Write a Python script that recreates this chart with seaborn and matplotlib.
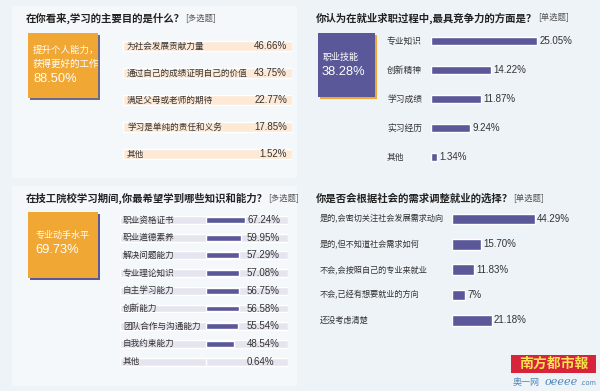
import matplotlib
matplotlib.use("Agg")
import numpy as np
import pandas as pd
import seaborn as sns
import matplotlib.pyplot as plt
from matplotlib.patches import Rectangle
from matplotlib.transforms import blended_transform_factory as btf

# ---------------- data ----------------
p1_title = "在你看来,学习的主要目的是什么？"
p1_tag = "[多选题]"
p1_box_lines = ["提升个人能力，", "获得更好的工作"]
p1_box_value = "88.50%"
p1_labels = ["为社会发展贡献力量", "通过自己的成绩证明自己的价值", "满足父母或老师的期待",
             "学习是单纯的责任和义务", "其他"]
p1_values = [46.66, 43.75, 22.77, 17.85, 1.52]

p2_title = "你认为在就业求职过程中,最具竞争力的方面是？"
p2_tag = "[单选题]"
p2_box_label = "职业技能"
p2_box_value = "38.28%"
p2_labels = ["专业知识", "创新精神", "学习成绩", "实习经历", "其他"]
p2_values = [25.05, 14.22, 11.87, 9.24, 1.34]

p3_title = "在技工院校学习期间,你最希望学到哪些知识和能力？"
p3_tag = "[多选题]"
p3_box_label = "专业动手水平"
p3_box_value = "69.73%"
p3_labels = ["职业资格证书", "职业道德素养", "解决问题能力", "专业理论知识", "自主学习能力",
             "创新能力", "团队合作与沟通能力", "自我约束能力", "其他"]
p3_values = [67.24, 59.95, 57.29, 57.08, 56.75, 56.58, 55.54, 48.54, 0.64]

p4_title = "你是否会根据社会的需求调整就业的选择？"
p4_tag = "[单选题]"
p4_labels = ["是的,会密切关注社会发展需求动向", "是的,但不知道社会需求如何",
             "不会,会按照自己的专业来就业", "不会,已经有想要就业的方向", "还没考虑清楚"]
p4_values = [44.29, 15.70, 11.83, 7.0, 21.18]
p4_value_text = ["44.29%", "15.70%", "11.83%", "7%", "21.18%"]

logo_text = "南方都市報"
site_text = "奥一网"
site_url = "oeeee"
site_dom = ".com"

# ---------------- style ----------------
sns.set_theme(style="white")
plt.rcParams["font.family"] = ["Noto Sans CJK SC", "DejaVu Sans"]
NUM_FONT = ["Liberation Sans", "Noto Sans CJK SC"]

PURPLE = "#5a5899"
ORANGE = "#f0a733"
TXT = "#333333"
BG = "#eef3f8"

W, H = 600, 391
fig = plt.figure(figsize=(6, 3.91), dpi=100)
fig.patch.set_facecolor(BG)


def ax_at(x0, y0, x1, y1):
    ax = fig.add_axes([x0 / W, 1 - y1 / H, (x1 - x0) / W, (y1 - y0) / H])
    ax.patch.set_visible(False)
    ax.set_zorder(3)
    return ax


def ftext(x, y, s, **kw):
    kw.setdefault("va", "center")
    kw.setdefault("color", TXT)
    return fig.text(x / W, 1 - y / H, s, **kw)


def rect(x0, y0, x1, y1, color, z=1):
    fig.add_artist(Rectangle((x0 / W, 1 - y1 / H), (x1 - x0) / W, (y1 - y0) / H,
                             transform=fig.transFigure, facecolor=color,
                             edgecolor="none", zorder=z))


# subtle lighter panels on the left
rect(12, 6, 297, 178, "#f5f8fb", 0.5)
rect(12, 186, 297, 386, "#f5f8fb", 0.5)


def title(x, y, t, tag):
    tt = ftext(x, y, t, fontsize=7.5, fontweight="bold", color="#222222")
    fig.canvas.draw()
    bb = tt.get_window_extent()
    ftext(bb.x1 + 0.5, y, tag, fontsize=6, color="#555555")


def rows_axes(x0, x1, yfirst, step, n):
    return ax_at(x0, yfirst - step / 2, x1, yfirst + step * (n - 0.5))


# ---------------- panel 1 ----------------
title(26, 18, p1_title, p1_tag)
rect(30, 35, 100, 100, "#6b6a8e", 2)
rect(28, 33, 98, 98, ORANGE, 2.1)
ftext(33, 50, p1_box_lines[0], fontsize=6.8, color="white", zorder=4)
ftext(33, 64, p1_box_lines[1], fontsize=6.8, color="white", zorder=4)
ftext(33, 79, p1_box_value, fontsize=9.3, color="white", family=NUM_FONT, zorder=4)

n1 = len(p1_labels)
ax1 = rows_axes(123, 292, 46, 27, n1)
df1 = pd.DataFrame({"label": p1_labels, "value": p1_values, "track": [1.0] * n1})
sns.barplot(data=df1, x="track", y="label", orient="h", color="#fde9d6",
            width=0.38, ax=ax1, saturation=1)
ax1.set_xlim(0, 1)
ax1.set_ylim(n1 - 0.5, -0.5)
ax1.set_axis_off()
tr1 = btf(fig.transFigure, ax1.transData)
for i, (lab, v) in enumerate(zip(p1_labels, p1_values)):
    ax1.text(127 / W, i, lab, transform=tr1, fontsize=6.2, va="center", ha="left", color=TXT)
    ax1.text(287 / W, i, f"{v:.2f}%", transform=tr1, fontsize=7, va="center", ha="right",
             color=TXT, family=NUM_FONT)

# ---------------- panel 2 ----------------
title(316, 18, p2_title, p2_tag)
rect(320, 35, 377, 99, ORANGE, 2)
rect(318, 33, 375, 97, PURPLE, 2.1)
ftext(323, 57, p2_box_label, fontsize=6.5, color="white", zorder=4)
ftext(322, 72, p2_box_value, fontsize=9.3, color="white", family=NUM_FONT, zorder=4)

n2 = len(p2_labels)
scale2 = 4.23
ax2 = rows_axes(431, 595, 41, 29, n2)
df2 = pd.DataFrame({"label": p2_labels, "value": p2_values})
sns.barplot(data=df2, x="value", y="label", orient="h", color=PURPLE, width=0.26,
            ax=ax2, saturation=1)
ax2.set_xlim(0, (595 - 431) / scale2)
ax2.set_ylim(n2 - 0.5, -0.5)
ax2.set_axis_off()
tr2 = btf(fig.transFigure, ax2.transData)
for i, (lab, v) in enumerate(zip(p2_labels, p2_values)):
    ax2.text(387 / W, i, lab, transform=tr2, fontsize=6.3, va="center", ha="left", color=TXT)
    ax2.text(v + 0.6, i, f"{v:.2f}%", fontsize=7, va="center", ha="left", color=TXT,
             family=NUM_FONT)

# ---------------- panel 3 ----------------
title(26, 198, p3_title, p3_tag)
rect(30, 214, 100, 280, PURPLE, 2)
rect(28, 212, 98, 278, ORANGE, 2.1)
ftext(35, 235, p3_box_label, fontsize=6.5, color="white", zorder=4)
ftext(35, 250, p3_box_value, fontsize=9.3, color="white", family=NUM_FONT, zorder=4)

n3 = len(p3_labels)
scale3 = 0.58
ax3 = rows_axes(120, 288, 220, 17.7, n3)
ax3.set_xlim(-(206 - 120) / scale3, (288 - 206) / scale3)
x3lo, x3hi = ax3.get_xlim()
ax3.barh(np.arange(n3), x3hi - x3lo, left=x3lo, height=0.45, color="#e5e5ef", zorder=1)
df3 = pd.DataFrame({"label": p3_labels, "value": p3_values})
sns.barplot(data=df3, x="value", y="label", orient="h", color=PURPLE, width=0.33,
            ax=ax3, saturation=1, zorder=2)
ax3.set_xlim(x3lo, x3hi)
ax3.set_ylim(n3 - 0.5, -0.5)
ax3.set_axis_off()
tr3 = btf(fig.transFigure, ax3.transData)
for i, (lab, v) in enumerate(zip(p3_labels, p3_values)):
    ax3.text(123 / W, i, lab, transform=tr3, fontsize=6.2, va="center", ha="left",
             color=TXT, zorder=5)
    ax3.text(247 / W, i, f"{v:.2f}%", transform=tr3, fontsize=7, va="center", ha="left",
             color=TXT, family=NUM_FONT, zorder=5)

# ---------------- panel 4 ----------------
title(316, 199, p4_title, p4_tag)
n4 = len(p4_labels)
scale4 = 1.87
ax4 = rows_axes(452, 598, 219, 25.3, n4)
df4 = pd.DataFrame({"label": p4_labels, "value": p4_values})
sns.barplot(data=df4, x="value", y="label", orient="h", color=PURPLE, width=0.42,
            ax=ax4, saturation=1)
ax4.set_xlim(0, (598 - 452) / scale4)
ax4.set_ylim(n4 - 0.5, -0.5)
ax4.set_axis_off()
tr4 = btf(fig.transFigure, ax4.transData)
for i, (lab, v, vt) in enumerate(zip(p4_labels, p4_values, p4_value_text)):
    ax4.text(320 / W, i, lab, transform=tr4, fontsize=5.9, va="center", ha="left", color=TXT)
    ax4.text(v + 1.2, i, vt, fontsize=7, va="center", ha="left", color=TXT,
             family=NUM_FONT)

# ---------------- logo ----------------
rect(511, 355, 596, 373, "#d8243a", 3)
ftext(553.5, 364, logo_text, fontsize=10, fontweight="bold", color="#f7e24e",
      ha="center", zorder=4)
ftext(513, 382, site_text, fontsize=6.5, color="#4f86bd", zorder=4)
ftext(545, 382, site_url, fontsize=8, color="#4f86bd", style="italic",
      family=["DejaVu Serif"], zorder=4)
ftext(580, 383, site_dom, fontsize=5, color="#4f86bd", zorder=4)

fig.savefig("out.png", dpi=100, facecolor=BG)
